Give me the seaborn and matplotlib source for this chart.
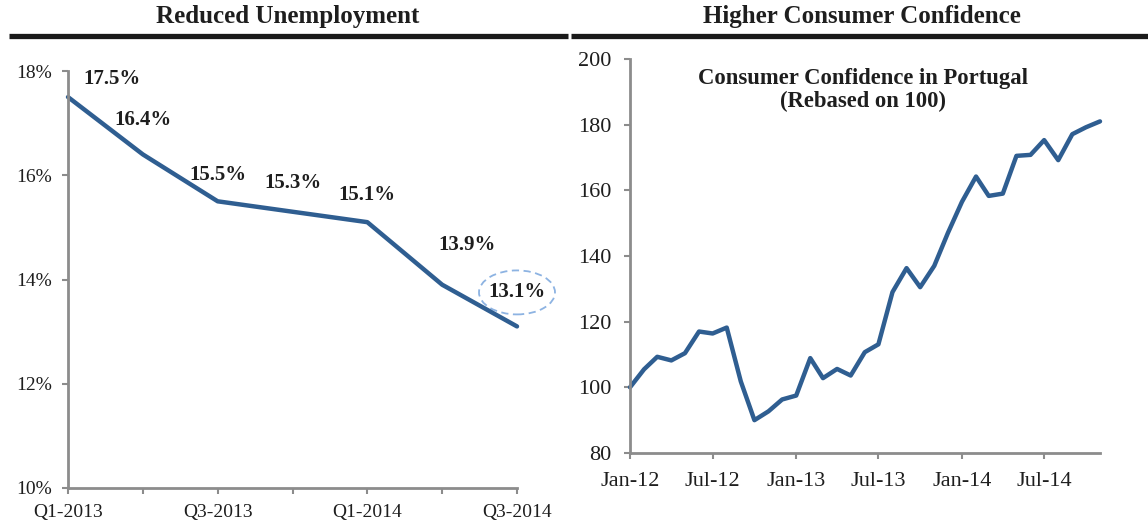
import numpy as np
import pandas as pd
import matplotlib
matplotlib.use("Agg")
import matplotlib.pyplot as plt
import matplotlib.dates as mdates
from matplotlib.lines import Line2D
from matplotlib.patches import Ellipse
from matplotlib.transforms import ScaledTranslation
import seaborn as sns

# ---------------- data ----------------
quarters = ["Q1-2013", "Q2-2013", "Q3-2013", "Q4-2013", "Q1-2014", "Q2-2014", "Q3-2014"]
unemployment = [17.5, 16.4, 15.5, 15.3, 15.1, 13.9, 13.1]
quarter_labels = ["Q1-2013", "", "Q3-2013", "", "Q1-2014", "", "Q3-2014"]

months = pd.date_range("2012-01-01", "2014-11-01", freq="MS")
confidence = [100.0, 105.5, 109.3, 108.2, 110.4, 117.0, 116.4, 118.2, 101.8, 90.0,
              92.7, 96.3, 97.5, 108.9, 102.8, 105.6, 103.6, 110.7, 113.1, 129.0,
              136.3, 130.5, 137.0, 147.0, 156.5, 164.2, 158.3, 159.0, 170.5, 170.8,
              175.3, 169.2, 177.1, 179.2, 181.0]

left_title = "Reduced Unemployment"
right_title = "Higher Consumer Confidence"
inner_title = "Consumer Confidence in Portugal\n(Rebased on 100)"

# ---------------- style ----------------
sns.set_theme(style="white")
plt.rcParams["font.family"] = ["Liberation Serif", "DejaVu Serif"]

LINE = "#2F5E91"
AXC = "#8C8C8C"
TXT = "#1E1E1E"
W, H = 1148, 524

fig = plt.figure(figsize=(W / 100, H / 100), dpi=100)

def rect(x0, y0, x1, y1):
    return [x0 / W, 1 - y1 / H, (x1 - x0) / W, (y1 - y0) / H]

ax1 = fig.add_axes(rect(68, 71, 517, 488))
ax2 = fig.add_axes(rect(630, 59, 1100, 453))

# ---------------- left chart ----------------
df1 = pd.DataFrame({"q": quarters, "v": unemployment})
df1["pos"] = np.arange(len(df1))
sns.lineplot(data=df1, x="pos", y="v", ax=ax1, color=LINE, lw=3.2,
             solid_joinstyle="round", solid_capstyle="round", clip_on=False)
ax1.set_xlim(0, len(quarters) - 1)
ax1.set_ylim(10, 18)
ax1.set_xticks(df1["pos"])
ax1.set_xticklabels(quarter_labels)
ax1.set_yticks([10, 12, 14, 16, 18])
ax1.set_yticklabels([f"{t}%" for t in [10, 12, 14, 16, 18]])

label_offsets = [(44, 18), (0, 34), (0, 26), (0, 29), (0, 27), (25, 40), (0, 34)]
for i, (v, off) in enumerate(zip(unemployment, label_offsets)):
    ax1.annotate(f"{v:.1f}%", (i, v), xytext=(off[0] * 0.72, off[1] * 0.72),
                 textcoords="offset points", ha="center", va="center",
                 fontsize=15, fontweight="bold", color=TXT, annotation_clip=False)

tr = fig.dpi_scale_trans + ScaledTranslation(len(quarters) - 1, unemployment[-1], ax1.transData)
ax1.add_patch(Ellipse((0, 0.34), width=0.76, height=0.44, transform=tr, fill=False,
                      ec="#8DB3E2", lw=1.3, ls=(0, (4, 2.5)), clip_on=False))

# ---------------- right chart ----------------
df2 = pd.DataFrame({"m": months, "v": confidence})
sns.lineplot(data=df2, x="m", y="v", ax=ax2, color=LINE, lw=3.2,
             solid_joinstyle="round", solid_capstyle="round", clip_on=False)
ax2.set_xlim(months[0], months[-1])
ax2.set_ylim(80, 200)
ax2.set_yticks(range(80, 201, 20))
ax2.set_xticks(months[::6])
ax2.xaxis.set_major_formatter(mdates.DateFormatter("%b-%y"))
ax2.text(0.495, 0.922, inner_title, transform=ax2.transAxes,
         ha="center", va="center", fontsize=16.3, fontweight="bold", color=TXT,
         linespacing=1.1)

# ---------------- axes styling ----------------
for ax, fs, tpad in ((ax1, 14, 7), (ax2, 16, 9)):
    ax.set_xlabel("")
    ax.set_ylabel("")
    for s in ("top", "right"):
        ax.spines[s].set_visible(False)
    for s in ("left", "bottom"):
        ax.spines[s].set_color(AXC)
        ax.spines[s].set_linewidth(2.0)
    ax.tick_params(axis="both", which="major", direction="out", length=4.5,
                   width=1.5, color=AXC, labelsize=fs, labelcolor=TXT, pad=tpad,
                   left=True, bottom=True)
    ax.set_facecolor("none")

# ---------------- panel headers ----------------
fig.text(288 / W, 1 - 17 / H, left_title, ha="center", va="center",
         fontsize=18, fontweight="bold", color=TXT)
fig.text(862 / W, 1 - 17 / H, right_title, ha="center", va="center",
         fontsize=18, fontweight="bold", color=TXT)
ly = 1 - 36 / H
fig.add_artist(Line2D([9 / W, 568 / W], [ly, ly], transform=fig.transFigure,
                      color="#1A1A1A", lw=3.8, solid_capstyle="butt"))
fig.add_artist(Line2D([571 / W, 1.0], [ly, ly], transform=fig.transFigure,
                      color="#1A1A1A", lw=3.8, solid_capstyle="butt"))

fig.savefig("out.png", dpi=100, facecolor="white")
